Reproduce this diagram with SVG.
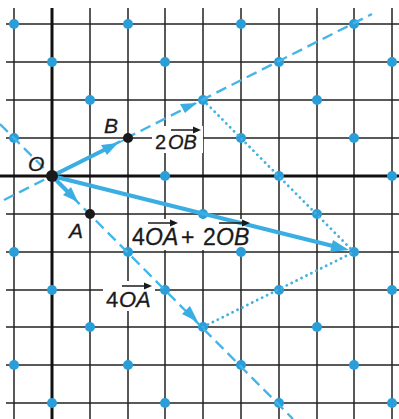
<svg xmlns="http://www.w3.org/2000/svg" width="399" height="419" viewBox="0 0 399 419">
<defs>
<style>
.grid line{stroke:#222;stroke-width:1.5}
.axis{stroke:#111;stroke-width:3}
.mask{fill:#fff}
.dot{fill:#2a9ed9}
.bdot{fill:#1a1a1a}
.thick{stroke:#3aade3;stroke-width:4;fill:none;stroke-linecap:round}
.thin{stroke:#3aade3;stroke-width:1.6;fill:none}
.dash{stroke:#45b5e8;stroke-width:2.4;fill:none;stroke-dasharray:11 6}
.dot-line{stroke:#45b0e0;stroke-width:2.8;fill:none;stroke-dasharray:0.1 5.4;stroke-linecap:round}
.head{fill:#3aade3}
.lbl{font-family:"Liberation Sans",Arial,sans-serif;fill:#1a1a1a;stroke:#1a1a1a;stroke-width:0.3}
.it{font-style:italic}
.vec{stroke:#1a1a1a;stroke-width:1.5;fill:none}
.vh{fill:#1a1a1a}
</style>
</defs>
<g id="grid" class="grid">
<line x1="14" y1="8" x2="14" y2="419"/>
<line x1="90" y1="8" x2="90" y2="419"/>
<line x1="128" y1="8" x2="128" y2="419"/>
<line x1="165" y1="8" x2="165" y2="419"/>
<line x1="203" y1="8" x2="203" y2="419"/>
<line x1="241" y1="8" x2="241" y2="419"/>
<line x1="279" y1="8" x2="279" y2="419"/>
<line x1="317" y1="8" x2="317" y2="419"/>
<line x1="354" y1="8" x2="354" y2="419"/>
<line x1="392" y1="8" x2="392" y2="419"/>
<line x1="6" y1="24" x2="399" y2="24"/>
<line x1="6" y1="62" x2="399" y2="62"/>
<line x1="6" y1="100" x2="399" y2="100"/>
<line x1="6" y1="138" x2="399" y2="138"/>
<line x1="6" y1="214" x2="399" y2="214"/>
<line x1="6" y1="252" x2="399" y2="252"/>
<line x1="6" y1="290" x2="399" y2="290"/>
<line x1="6" y1="327" x2="399" y2="327"/>
<line x1="6" y1="365" x2="399" y2="365"/>
<line x1="6" y1="403" x2="399" y2="403"/>
</g>
<g id="axes">
<line class="axis" x1="0" y1="176" x2="399" y2="176"/>
<line class="axis" x1="52" y1="8" x2="52" y2="419"/>
</g>
<g id="label-masks">
<rect class="mask" x="152" y="126" width="51" height="27"/>
<rect class="mask" x="130" y="219" width="124" height="31"/>
<rect class="mask" x="103" y="281" width="52" height="30"/>
</g>
<g id="lattice-dots">
<circle class="dot" cx="14" cy="24" r="5"/><circle class="dot" cx="128" cy="24" r="5"/><circle class="dot" cx="241" cy="24" r="5"/><circle class="dot" cx="354" cy="24" r="5"/>
<circle class="dot" cx="52" cy="62" r="5"/><circle class="dot" cx="165" cy="62" r="5"/><circle class="dot" cx="279" cy="62" r="5"/><circle class="dot" cx="392" cy="62" r="5"/>
<circle class="dot" cx="90" cy="100" r="5"/><circle class="dot" cx="203" cy="100" r="5"/><circle class="dot" cx="317" cy="100" r="5"/>
<circle class="dot" cx="14" cy="138" r="5"/><circle class="dot" cx="241" cy="138" r="5"/><circle class="dot" cx="354" cy="138" r="5"/>
<circle class="dot" cx="165" cy="176" r="5"/><circle class="dot" cx="279" cy="176" r="5"/><circle class="dot" cx="392" cy="176" r="5"/>
<circle class="dot" cx="203" cy="214" r="5"/><circle class="dot" cx="317" cy="214" r="5"/>
<circle class="dot" cx="14" cy="252" r="5"/><circle class="dot" cx="128" cy="252" r="5"/><circle class="dot" cx="241" cy="252" r="5"/><circle class="dot" cx="354" cy="252" r="5"/>
<circle class="dot" cx="52" cy="290" r="5"/><circle class="dot" cx="165" cy="290" r="5"/><circle class="dot" cx="279" cy="290" r="5"/><circle class="dot" cx="392" cy="290" r="5"/>
<circle class="dot" cx="90" cy="327" r="5"/><circle class="dot" cx="203" cy="327" r="5"/><circle class="dot" cx="317" cy="327" r="5"/>
<circle class="dot" cx="14" cy="365" r="5"/><circle class="dot" cx="128" cy="365" r="5"/><circle class="dot" cx="241" cy="365" r="5"/><circle class="dot" cx="354" cy="365" r="5"/>
<circle class="dot" cx="52" cy="403" r="5"/><circle class="dot" cx="165" cy="403" r="5"/><circle class="dot" cx="279" cy="403" r="5"/><circle class="dot" cx="392" cy="403" r="5"/>
</g>
<g id="connectors">
<path class="dash" d="M4,200 L372,14"/>
<path class="dash" d="M0,124 L293,419"/>
<path class="dot-line" d="M203,100 L354,252"/>
<path class="dot-line" d="M203,327 L354,252"/>
<path class="thick" d="M52,176 L106,149"/>
<polygon class="head" points="118,143 101,145 107,155"/>
<path class="thin" d="M116,144 L128,138"/>
<path class="thick" d="M52,176 L70,194"/>
<polygon class="head" points="78,202 63,195 71,187"/>
<polygon class="head" points="197,103 180,104 185,113"/>
<polygon class="head" points="198,322 182,314 190,306"/>
<path class="thick" d="M52,176 L337,247"/>
<polygon class="head" points="349,250 333,240 330,252"/>
</g>
<g id="node-O">
<circle class="bdot" cx="52" cy="176" r="6"/>
<text class="lbl it" x="28" y="171" font-size="21">O</text>
</g>
<g id="node-B">
<circle class="bdot" cx="128" cy="138" r="5"/>
<text class="lbl it" x="104" y="133" font-size="21">B</text>
</g>
<g id="node-A">
<circle class="bdot" cx="90" cy="214" r="5"/>
<text class="lbl it" x="69" y="238" font-size="21">A</text>
</g>
<g id="label-2OB">
<text class="lbl" y="149" font-size="20"><tspan x="155">2</tspan><tspan x="168" class="it">OB</tspan></text>
<path class="vec" d="M171,130 L195,130"/><polygon class="vh" points="201,130 193,126.5 193,133.5"/>
</g>
<g id="label-sum">
<text class="lbl" y="245" font-size="23"><tspan x="132">4</tspan><tspan x="145" class="it">OA</tspan><tspan x="181">+</tspan><tspan x="203">2</tspan><tspan x="216" class="it">OB</tspan></text>
<path class="vec" d="M148,223 L172,223"/><polygon class="vh" points="178,223 170,219.5 170,226.5"/>
<path class="vec" d="M219,223 L244,223"/><polygon class="vh" points="250,223 242,219.5 242,226.5"/>
</g>
<g id="label-4OA">
<text class="lbl" y="307" font-size="22"><tspan x="106">4</tspan><tspan x="119" class="it">OA</tspan></text>
<path class="vec" d="M122,286 L146,286"/><polygon class="vh" points="152,286 144,282.5 144,289.5"/>
</g>
</svg>
